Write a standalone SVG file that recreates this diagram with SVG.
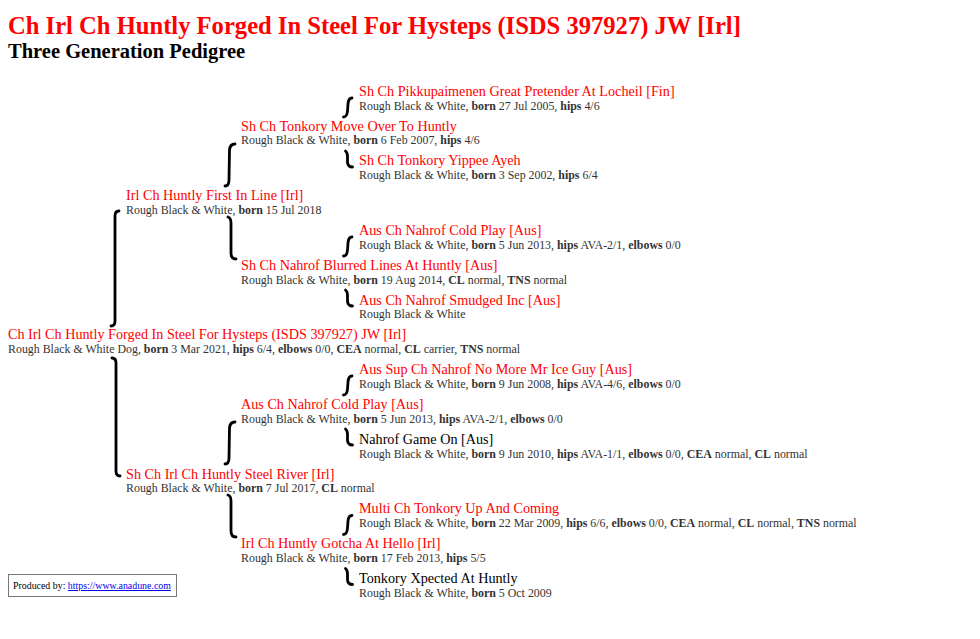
<svg xmlns="http://www.w3.org/2000/svg" width="980" height="639" viewBox="0 0 980 639">
<style>
text{font-family:"Liberation Serif","Times New Roman",serif}
.title{font-size:24.6px;font-weight:bold;fill:#ff0000}
.sub{font-size:20.5px;font-weight:bold;fill:#000}
.nm{font-size:14.2px;fill:#ff0000}
.nb{font-size:14.2px;fill:#000}
.dt{font-size:11.9px;fill:#333}
.b{font-weight:bold}
.br{fill:none;stroke:#000;stroke-width:2.8;stroke-linecap:round;stroke-linejoin:round}
.prod{font-size:9.9px;fill:#000}
.lnk{fill:#0000ee;text-decoration:underline}
</style>
<rect width="980" height="639" fill="#fff"/>
<text class="title" x="8" y="34.3">Ch Irl Ch Huntly Forged In Steel For Hysteps (ISDS 397927) JW [Irl]</text>
<text class="sub" x="8" y="58.3">Three Generation Pedigree</text>

<g id="connectors">
<!-- gen1 -->
<path class="br" d="M119,211 Q115,211 115,216 L115,321 Q115,326 111,326"/>
<path class="br" d="M112,358 Q116,358 116,363 L116,471 Q116,476 120,476"/>
<!-- gen2 -->
<path class="br" d="M235,144 Q230,144 229.5,150 L229,180 Q229,186 225,186"/>
<path class="br" d="M228,217 Q231,218 231,223 L231,253 Q231,259 236,259"/>
<path class="br" d="M235,422 Q230,422 229.5,428 L229,458 Q229,464 225,464"/>
<path class="br" d="M228,495 Q231,496 231,501 L231,531 Q231,537 236,537"/>
<!-- gen3 -->
<path class="br" d="M352,98 Q348.5,98 348,104 L347.5,111 Q347,117 343.5,117"/>
<path class="br" d="M345.5,151 Q347.5,152.5 347.5,156.5 L347.5,162.5 Q348,167 352.5,167"/>
<path class="br" d="M352,237 Q348.5,237 348,243 L347.5,250 Q347,256 343.5,256"/>
<path class="br" d="M345.5,290 Q347.5,291.5 347.5,295.5 L347.5,301.5 Q348,306 352.5,306"/>
<path class="br" d="M352,376 Q348.5,376 348,382 L347.5,389 Q347,395 343.5,395"/>
<path class="br" d="M345.5,429 Q347.5,430.5 347.5,434.5 L347.5,440.5 Q348,445 352.5,445"/>
<path class="br" d="M352,515.5 Q348.5,515.5 348,521 L347.5,528 Q347,534.5 343.5,534.5"/>
<path class="br" d="M345.5,568.5 Q347.5,570 347.5,574 L347.5,580 Q348,584.5 352.5,584.5"/>
</g>

<g id="n0">
<text class="nm" x="359" y="95.8">Sh Ch Pikkupaimenen Great Pretender At Locheil [Fin]</text>
<text class="dt" x="359" y="109.6">Rough Black &amp; White, <tspan class="b">born</tspan> 27 Jul 2005, <tspan class="b">hips</tspan> 4/6</text>
</g>
<g id="n1">
<text class="nm" x="241" y="130.6">Sh Ch Tonkory Move Over To Huntly</text>
<text class="dt" x="241" y="144.4">Rough Black &amp; White, <tspan class="b">born</tspan> 6 Feb 2007, <tspan class="b">hips</tspan> 4/6</text>
</g>
<g id="n2">
<text class="nm" x="359" y="165.4">Sh Ch Tonkory Yippee Ayeh</text>
<text class="dt" x="359" y="179.2">Rough Black &amp; White, <tspan class="b">born</tspan> 3 Sep 2002, <tspan class="b">hips</tspan> 6/4</text>
</g>
<g id="n3">
<text class="nm" x="126" y="200.2">Irl Ch Huntly First In Line [Irl]</text>
<text class="dt" x="126" y="214">Rough Black &amp; White, <tspan class="b">born</tspan> 15 Jul 2018</text>
</g>
<g id="n4">
<text class="nm" x="359" y="235">Aus Ch Nahrof Cold Play [Aus]</text>
<text class="dt" x="359" y="248.8">Rough Black &amp; White, <tspan class="b">born</tspan> 5 Jun 2013, <tspan class="b">hips</tspan> AVA-2/1, <tspan class="b">elbows</tspan> 0/0</text>
</g>
<g id="n5">
<text class="nm" x="241" y="269.8">Sh Ch Nahrof Blurred Lines At Huntly [Aus]</text>
<text class="dt" x="241" y="283.6">Rough Black &amp; White, <tspan class="b">born</tspan> 19 Aug 2014, <tspan class="b">CL</tspan> normal, <tspan class="b">TNS</tspan> normal</text>
</g>
<g id="n6">
<text class="nm" x="359" y="304.6">Aus Ch Nahrof Smudged Inc [Aus]</text>
<text class="dt" x="359" y="318.4">Rough Black &amp; White</text>
</g>
<g id="n7">
<text class="nm" x="8" y="339.4">Ch Irl Ch Huntly Forged In Steel For Hysteps (ISDS 397927) JW [Irl]</text>
<text class="dt" x="8" y="353.2">Rough Black &amp; White Dog, <tspan class="b">born</tspan> 3 Mar 2021, <tspan class="b">hips</tspan> 6/4, <tspan class="b">elbows</tspan> 0/0, <tspan class="b">CEA</tspan> normal, <tspan class="b">CL</tspan> carrier, <tspan class="b">TNS</tspan> normal</text>
</g>
<g id="n8">
<text class="nm" x="359" y="374.2">Aus Sup Ch Nahrof No More Mr Ice Guy [Aus]</text>
<text class="dt" x="359" y="388">Rough Black &amp; White, <tspan class="b">born</tspan> 9 Jun 2008, <tspan class="b">hips</tspan> AVA-4/6, <tspan class="b">elbows</tspan> 0/0</text>
</g>
<g id="n9">
<text class="nm" x="241" y="409">Aus Ch Nahrof Cold Play [Aus]</text>
<text class="dt" x="241" y="422.8">Rough Black &amp; White, <tspan class="b">born</tspan> 5 Jun 2013, <tspan class="b">hips</tspan> AVA-2/1, <tspan class="b">elbows</tspan> 0/0</text>
</g>
<g id="n10">
<text class="nb" x="359" y="443.8">Nahrof Game On [Aus]</text>
<text class="dt" x="359" y="457.6">Rough Black &amp; White, <tspan class="b">born</tspan> 9 Jun 2010, <tspan class="b">hips</tspan> AVA-1/1, <tspan class="b">elbows</tspan> 0/0, <tspan class="b">CEA</tspan> normal, <tspan class="b">CL</tspan> normal</text>
</g>
<g id="n11">
<text class="nm" x="126" y="478.6">Sh Ch Irl Ch Huntly Steel River [Irl]</text>
<text class="dt" x="126" y="492.4">Rough Black &amp; White, <tspan class="b">born</tspan> 7 Jul 2017, <tspan class="b">CL</tspan> normal</text>
</g>
<g id="n12">
<text class="nm" x="359" y="513.4">Multi Ch Tonkory Up And Coming</text>
<text class="dt" x="359" y="527.2">Rough Black &amp; White, <tspan class="b">born</tspan> 22 Mar 2009, <tspan class="b">hips</tspan> 6/6, <tspan class="b">elbows</tspan> 0/0, <tspan class="b">CEA</tspan> normal, <tspan class="b">CL</tspan> normal, <tspan class="b">TNS</tspan> normal</text>
</g>
<g id="n13">
<text class="nm" x="241" y="548.2">Irl Ch Huntly Gotcha At Hello [Irl]</text>
<text class="dt" x="241" y="562">Rough Black &amp; White, <tspan class="b">born</tspan> 17 Feb 2013, <tspan class="b">hips</tspan> 5/5</text>
</g>
<g id="n14">
<text class="nb" x="359" y="583">Tonkory Xpected At Huntly</text>
<text class="dt" x="359" y="596.8">Rough Black &amp; White, <tspan class="b">born</tspan> 5 Oct 2009</text>
</g>

<g id="produced">
<rect x="8.5" y="574.5" width="168" height="22" fill="#fff" stroke="#777" stroke-width="1"/>
<text class="prod" x="13" y="589">Produced by: <tspan class="lnk">https://www.anadune.com</tspan></text>
</g>
</svg>
